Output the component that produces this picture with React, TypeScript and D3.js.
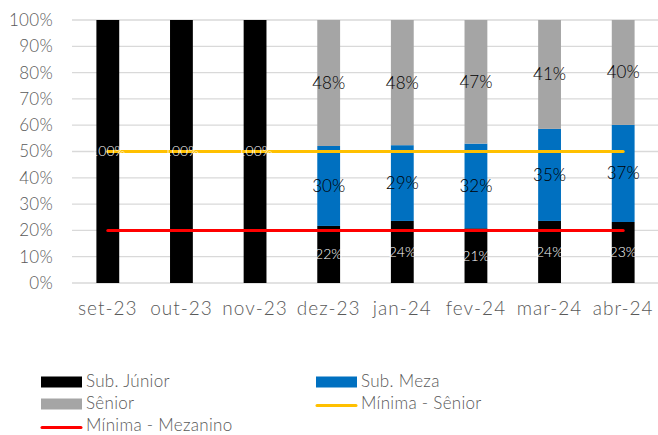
import React, { useEffect, useRef } from 'react';
import * as d3 from 'd3';

const categories = ['set-23', 'out-23', 'nov-23', 'dez-23', 'jan-24', 'fev-24', 'mar-24', 'abr-24'];
const subJunior = [100, 100, 100, 21.7, 23.6, 20.8, 23.6, 23.2];
const subMeza = [0, 0, 0, 30.4, 28.8, 32.2, 35.0, 36.9];
const senior = [0, 0, 0, 47.9, 47.6, 47.0, 41.4, 39.9];
const juniorLabels = ['100%', '100%', '100%', '22%', '24%', '21%', '24%', '23%'];
const mezaLabels = ['', '', '', '30%', '29%', '32%', '35%', '37%'];
const seniorLabels = ['', '', '', '48%', '48%', '47%', '41%', '40%'];
const minSenior = 50;
const minMezanino = 20;
const yTicks = [0, 10, 20, 30, 40, 50, 60, 70, 80, 90, 100];

const FONT = 'Lato, "Noto Sans", sans-serif';
const GREY_TEXT = '#595959';

export default function App() {
  const svgRef = useRef<SVGSVGElement>(null);

  useEffect(() => {
    if (!svgRef.current) return;
    const W = 658;
    const H = 435;
    const svg = d3.select(svgRef.current);
    svg.selectAll('*').remove();
    svg.attr('width', W).attr('height', H).style('font-family', FONT);

    const x = d3.scaleBand().domain(categories).range([71, 660]).paddingInner(0.69).paddingOuter(0.345);
    const y = d3.scaleLinear().domain([0, 100]).range([283, 20]);

    // Grid lines
    svg.append('g')
      .selectAll('line')
      .data(yTicks)
      .enter()
      .append('line')
      .attr('x1', 72)
      .attr('x2', 658)
      .attr('y1', d => y(d))
      .attr('y2', d => y(d))
      .attr('stroke', '#d9d9d9')
      .attr('stroke-width', 1.3);

    // Y tick labels
    svg.append('g')
      .selectAll('text')
      .data(yTicks)
      .enter()
      .append('text')
      .attr('x', 53)
      .attr('y', d => y(d))
      .attr('dy', '0.35em')
      .attr('text-anchor', 'end')
      .attr('fill', GREY_TEXT)
      .style('font-size', '17px')
      .style('font-weight', 300)
      .style('letter-spacing', '0.3px')
      .text(d => `${d}%`);

    // X labels
    svg.append('g')
      .selectAll('text')
      .data(categories)
      .enter()
      .append('text')
      .attr('x', d => (x(d) || 0) + x.bandwidth() / 2)
      .attr('y', 315)
      .attr('text-anchor', 'middle')
      .attr('fill', GREY_TEXT)
      .style('font-size', '19px')
      .style('font-weight', 300)
      .style('letter-spacing', '1px')
      .text(d => d);

    const stack = categories.map((c, i) => ({
      c,
      i,
      segs: [
        { y0: 0, y1: subJunior[i], color: '#000000', label: juniorLabels[i], txt: '#ffffff', size: 14 },
        { y0: subJunior[i], y1: subJunior[i] + subMeza[i], color: '#0070c0', label: mezaLabels[i], txt: '#000000', size: 17 },
        { y0: subJunior[i] + subMeza[i], y1: subJunior[i] + subMeza[i] + senior[i], color: '#a5a5a5', label: seniorLabels[i], txt: '#000000', size: 17 },
      ],
    }));

    const bars = svg.append('g');
    stack.forEach(s => {
      s.segs.forEach(seg => {
        if (seg.y1 - seg.y0 <= 0) return;
        bars.append('rect')
          .attr('x', x(s.c) || 0)
          .attr('width', x.bandwidth())
          .attr('y', y(seg.y1))
          .attr('height', y(seg.y0) - y(seg.y1))
          .attr('fill', seg.color);
      });
    });

    // Lines
    const lineX1 = (x(categories[0]) || 0) + x.bandwidth() / 2;
    const lineX2 = (x(categories[categories.length - 1]) || 0) + x.bandwidth() / 2;
    [
      { v: minSenior, color: '#ffc000' },
      { v: minMezanino, color: '#ff0000' },
    ].forEach(l => {
      svg.append('line')
        .attr('x1', lineX1)
        .attr('x2', lineX2)
        .attr('y1', y(l.v))
        .attr('y2', y(l.v))
        .attr('stroke', l.color)
        .attr('stroke-width', 3)
        .attr('stroke-linecap', 'round');
    });

    // Labels
    const labels = svg.append('g');
    stack.forEach(s => {
      s.segs.forEach(seg => {
        if (!seg.label) return;
        labels.append('text')
          .attr('x', (x(s.c) || 0) + x.bandwidth() / 2)
          .attr('y', y((seg.y0 + seg.y1) / 2))
          .attr('dy', '0.35em')
          .attr('text-anchor', 'middle')
          .attr('fill', seg.txt)
          .style('font-size', `${seg.size}px`)
          .style('font-weight', 300)
          .text(seg.label);
      });
    });

    // Legend
    const legend = [
      { label: 'Sub. Júnior', color: '#000000', type: 'rect', lx: 41, ly: 381 },
      { label: 'Sub. Meza', color: '#0070c0', type: 'rect', lx: 316, ly: 381 },
      { label: 'Sênior', color: '#a5a5a5', type: 'rect', lx: 41, ly: 403 },
      { label: 'Mínima - Sênior', color: '#ffc000', type: 'line', lx: 316, ly: 403 },
      { label: 'Mínima - Mezanino', color: '#ff0000', type: 'line', lx: 41, ly: 425 },
    ];
    const lg = svg.append('g');
    legend.forEach(item => {
      if (item.type === 'rect') {
        lg.append('rect')
          .attr('x', item.lx)
          .attr('y', item.ly - 4.5)
          .attr('width', 41)
          .attr('height', 11)
          .attr('fill', item.color);
      } else {
        lg.append('line')
          .attr('x1', item.lx + 1)
          .attr('x2', item.lx + 40)
          .attr('y1', item.ly + 2.5)
          .attr('y2', item.ly + 2.5)
          .attr('stroke', item.color)
          .attr('stroke-width', 3)
          .attr('stroke-linecap', 'round');
      }
      lg.append('text')
        .attr('x', item.lx + 45)
        .attr('y', item.ly)
        .attr('dy', '0.35em')
        .attr('fill', GREY_TEXT)
        .style('font-size', '17px')
        .style('font-weight', 300)
        .style('letter-spacing', '0.3px')
        .text(item.label);
    });
  }, []);

  return (
    <div style={{ position: 'absolute', left: 0, top: 0 }}>
      <svg ref={svgRef}></svg>
    </div>
  );
}
